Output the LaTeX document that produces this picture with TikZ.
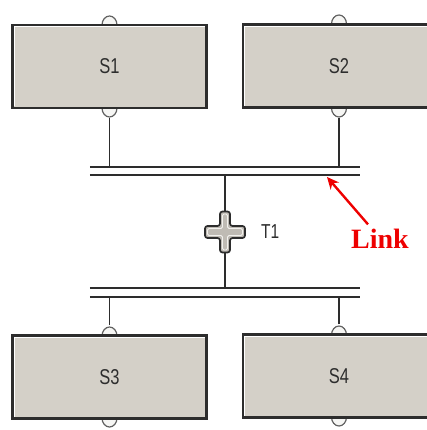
\documentclass[tikz,border=0pt]{standalone}
\usepackage{fontspec}
\setmainfont{Liberation Sans}
\newfontfamily\linkfont{Liberation Serif}
\usetikzlibrary{arrows.meta,calc}

\definecolor{face}{RGB}{212,208,200}
\definecolor{ink}{RGB}{45,45,45}
\definecolor{linkred}{RGB}{238,0,0}

% narrow labels stretched a little in height
\newcommand\tallish[1]{\scalebox{1}[1.3]{#1}}

\tikzset{
  stepbox/.style={draw=ink, line width=2.2pt, fill=face, minimum height=83pt,
    inner sep=0pt, text=ink, font=\fontsize{16.5}{16.5}\selectfont},
  wire/.style={draw=ink, line width=1.9pt},
  bump/.style={draw=ink!75, line width=1.2pt, fill=white!80!face},
  barnode/.style={minimum width=270pt, minimum height=8pt, inner sep=0pt},
  shine/.style={draw=white, line width=1.1pt},
}

\begin{document}
\begin{tikzpicture}[x=1pt,y=-1pt]
\useasboundingbox (0,0) rectangle (426,430);

% connection bumps on the step boxes (drawn first, boxes cover their base)
\foreach \bx/\by in {109.5/25, 339/24, 109.5/336, 339/335}{
  \draw[bump] (\bx-7.5,\by) arc[start angle=180, end angle=0, x radius=7.5pt, y radius=9pt];
}
\foreach \bx/\by in {109.5/108, 339/108, 109.5/418, 339/417}{
  \draw[bump] (\bx-7.5,\by) arc[start angle=180, end angle=360, x radius=7.5pt, y radius=9pt];
}

% steps
\node[stepbox, minimum width=194pt] (s1) at (109.5,66.5) {\tallish{S1}};
\node[stepbox, minimum width=192pt] (s2) at (339,66)   {\tallish{S2}};
\node[stepbox, minimum width=194pt] (s3) at (109.5,377) {\tallish{S3}};
\node[stepbox, minimum width=192pt] (s4) at (339,376)  {\tallish{S4}};

% raised-edge highlight inside each step
\foreach \s in {s1,s2,s3,s4}{
  \draw[shine] ($(\s.south west)+(2.8,-2.8)$) -- ($(\s.north west)+(2.8,2.8)$)
                                              -- ($(\s.north east)+(-2.8,2.8)$);
}

% double bars of the divergence and convergence
\node[barnode] (bar1) at (225,171) {};
\node[barnode] (bar2) at (225,292.5) {};
\foreach \b in {bar1,bar2}{
  \draw[wire] (\b.north west) -- (\b.north east);
  \draw[wire] (\b.south west) -- (\b.south east);
}

% stubs from the steps to the bars
\coordinate (s1out) at ($(s1.south)+(0,9)$);
\coordinate (s2out) at ($(s2.south)+(0,9)$);
\coordinate (s3in)  at ($(s3.north)+(0,-9)$);
\coordinate (s4in)  at ($(s4.north)+(0,-9)$);
\draw[wire] (s1out) -- (s1out |- bar1.north);
\draw[wire] (s2out) -- (s2out |- bar1.north);
\draw[wire] (s3in) -- (s3in |- bar2.south);
\draw[wire] (s4in) -- (s4in |- bar2.south);

% transition
\coordinate (t1) at (225,232);
\draw[wire] (bar1.south) -- (bar2.north);
\draw[draw=ink, line width=1.7pt, fill=face!90!black, rounded corners=2.5pt, shift={(t1)}]
  (-20,-6) -- (-5,-6) -- (-5,-20.5) -- (5,-20.5) -- (5,-6) -- (20,-6) -- (20,6)
  -- (5,6) -- (5,20.5) -- (-5,20.5) -- (-5,6) -- (-20,6) -- cycle;
\draw[draw=white!70!face, line width=0.9pt, rounded corners=1.5pt, shift={(t1)}]
  (-17.5,-3.5) -- (-2.5,-3.5) -- (-2.5,-18) -- (2.5,-18) -- (2.5,-3.5) -- (17.5,-3.5) -- (17.5,3.5)
  -- (2.5,3.5) -- (2.5,18) -- (-2.5,18) -- (-2.5,3.5) -- (-17.5,3.5) -- cycle;
\node[anchor=west, inner sep=0pt, text=ink, font=\fontsize{15.5}{15.5}\selectfont]
  (t1label) at (261,231.5) {\tallish{T1}};

% annotation
\node[anchor=base west, inner sep=0pt, text=linkred,
      font=\linkfont\bfseries\fontsize{28}{28}\selectfont] (link) at (351,248) {Link};
\coordinate (linktip) at (327,177);
\draw[linkred, line width=2.4pt, -{Stealth[length=12pt, width=11pt]}]
  ($(link.north west)+(17,-4)$) -- (linktip);
\end{tikzpicture}
\end{document}
